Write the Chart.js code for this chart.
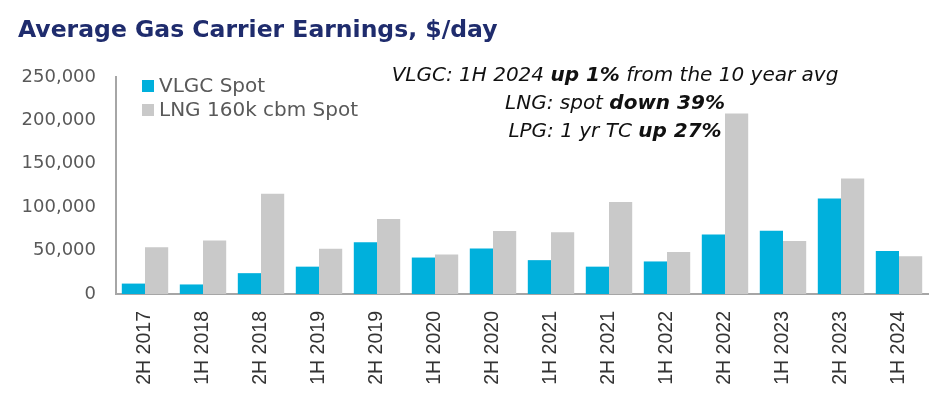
<!DOCTYPE html>
<html>
<head>
<meta charset="utf-8">
<script src="https://cdn.jsdelivr.net/npm/chart.js@4"></script>
<style>
  html, body { margin: 0; padding: 0; background: #ffffff; }
  #wrap { width: 940px; height: 397px; }
</style>
</head>
<body>
<div id="wrap"><canvas id="c" width="940" height="397"></canvas></div>
<script>
const titleText = "Average Gas Carrier Earnings, $/day";
const categories = ["2H 2017","1H 2018","2H 2018","1H 2019","2H 2019","1H 2020","2H 2020","1H 2021","2H 2021","1H 2022","2H 2022","1H 2023","2H 2023","1H 2024"];
const vlgcSpot = [12000, 11000, 24000, 31500, 59500, 42000, 52500, 39000, 31500, 37500, 68500, 73000, 110000, 49500];
const lngSpot = [54000, 61500, 115500, 52000, 86500, 45500, 72500, 71000, 106000, 48500, 208000, 61000, 133000, 43500];
const seriesNames = ["VLGC Spot", "LNG 160k cbm Spot"];
const yTicks = [0, 50000, 100000, 150000, 200000, 250000];
const noteLines = [
  [["VLGC: 1H 2024 ", false], ["up 1%", true], [" from the 10 year avg", false]],
  [["LNG: spot ", false], ["down 39%", true]],
  [["LPG: 1 yr TC ", false], ["up 27%", true]]
];

const FONT = "'DejaVu Sans', sans-serif";

const overlay = {
  id: 'overlay',
  afterDraw(chart) {
    const ctx = chart.ctx;
    ctx.save();
    // Title
    ctx.fillStyle = '#1F2C6D';
    ctx.font = "bold 23.5px " + FONT;
    ctx.textAlign = 'left';
    ctx.textBaseline = 'alphabetic';
    ctx.fillText(titleText, 18, 37);

    // Legend
    const rows = [86, 110];
    chart.data.datasets.forEach((ds, i) => {
      ctx.fillStyle = ds.backgroundColor;
      ctx.fillRect(142, rows[i] - 6, 12, 12);
      ctx.fillStyle = '#595959';
      ctx.font = "20px " + FONT;
      ctx.textBaseline = 'middle';
      ctx.fillText(ds.label, 159, rows[i] + 1);
    });

    // Annotation
    const baselines = [81, 109, 137];
    const cx = 615;
    ctx.textBaseline = 'alphabetic';
    noteLines.forEach((segs, li) => {
      let total = 0;
      const widths = segs.map(([t, b]) => {
        ctx.font = (b ? "italic bold " : "italic ") + "20px " + FONT;
        const w = ctx.measureText(t).width;
        total += w;
        return w;
      });
      let x = cx - total / 2;
      segs.forEach(([t, b], si) => {
        ctx.font = (b ? "italic bold " : "italic ") + "20px " + FONT;
        ctx.fillStyle = '#111111';
        ctx.textAlign = 'left';
        ctx.fillText(t, x, baselines[li]);
        x += widths[si];
      });
    });
    ctx.restore();
  }
};

new Chart(document.getElementById('c'), {
  type: 'bar',
  data: {
    labels: categories,
    datasets: [
      { label: seriesNames[0], data: vlgcSpot, backgroundColor: '#00B0DC', categoryPercentage: 0.8, barPercentage: 1.0 },
      { label: seriesNames[1], data: lngSpot, backgroundColor: '#C9C9C9', categoryPercentage: 0.8, barPercentage: 1.0 }
    ]
  },
  options: {
    responsive: false,
    animation: false,
    devicePixelRatio: 1,
    layout: { padding: { top: 77, left: 0, right: 12, bottom: 0 } },
    plugins: {
      legend: { display: false },
      title: { display: false },
      tooltip: { enabled: false }
    },
    scales: {
      x: {
        grid: { display: false, drawTicks: false },
        border: { display: true, color: '#A6A6A6', width: 2 },
        ticks: {
          minRotation: 90, maxRotation: 90, autoSkip: false,
          padding: 17,
          color: '#333333',
          font: { family: "'Liberation Sans', Arial, sans-serif", size: 19.5 }
        },
        afterFit(scale) { scale.height = 103; }
      },
      y: {
        min: 0, max: 250000,
        afterBuildTicks(scale) { scale.ticks = yTicks.map(v => ({ value: v })); },
        grid: { display: false, drawTicks: false },
        border: { display: true, color: '#A6A6A6', width: 2 },
        ticks: {
          padding: 20,
          color: '#595959',
          font: { family: FONT, size: 18 },
          callback: (v) => v.toLocaleString('en-US')
        },
        afterFit(scale) { scale.width = 116; }
      }
    }
  },
  plugins: [overlay]
});
</script>
</body>
</html>
